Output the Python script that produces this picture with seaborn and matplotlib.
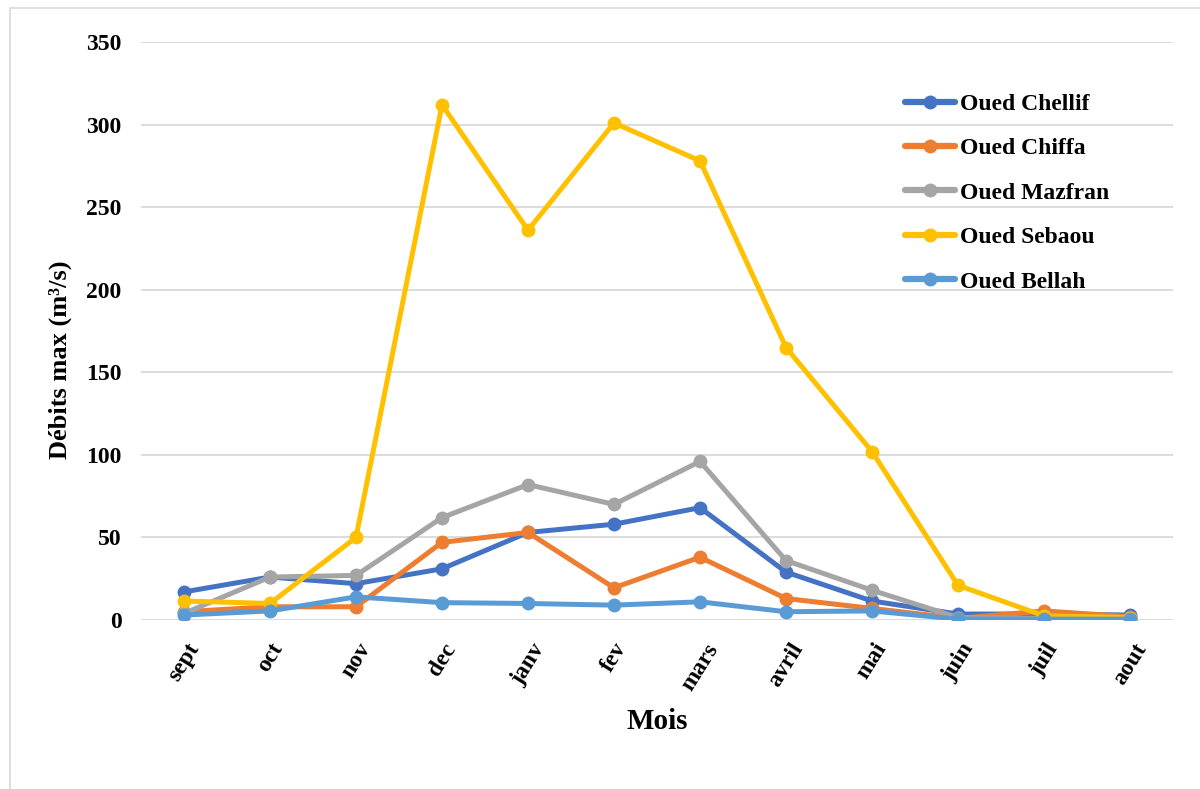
import matplotlib
matplotlib.use("Agg")
import matplotlib.pyplot as plt
from matplotlib.patches import Rectangle
import pandas as pd
import seaborn as sns

months = ["sept", "oct", "nov", "dec", "janv", "fev", "mars",
          "avril", "mai", "juin", "juil", "aout"]

chellif = [17, 26, 22, 31, 53, 58, 68, 29, 11.5, 3.6, 3.6, 3]
chiffa = [5, 8, 8, 47, 53, 19.5, 38, 13, 7, 1, 5.5, 2]
mazfran = [4, 26, 27, 62, 82, 70, 96, 36, 18, 1.5, 1, 1]
sebaou = [11.5, 10, 50, 312, 236, 301, 278, 165, 102, 21, 2.5, 1.5]
bellah = [3, 5.5, 14, 10.5, 10, 9, 11, 5, 5.5, 0.5, 0.5, 0.5]

series_names = ["Oued Chellif", "Oued Chiffa", "Oued Mazfran",
                "Oued Sebaou", "Oued Bellah"]
series_values = [chellif, chiffa, mazfran, sebaou, bellah]
colors = ["#4472C4", "#ED7D31", "#A5A5A5", "#FFC000", "#5B9BD5"]

rows = []
for name, vals in zip(series_names, series_values):
    for i, v in enumerate(vals):
        rows.append({"pos": i, "mois": months[i], "oued": name, "debit": v})
df = pd.DataFrame(rows)

sns.set_theme(style="white")
plt.rcParams["font.family"] = ["Liberation Serif", "DejaVu Serif"]
for key in ["text.color", "axes.labelcolor", "xtick.color", "ytick.color"]:
    plt.rcParams[key] = "black"

fig = plt.figure(figsize=(12, 7.89), dpi=100)
ax = fig.add_axes([0.1175, 0.2142, 0.86, 0.7326])

sns.lineplot(data=df, x="pos", y="debit", hue="oued", hue_order=series_names,
             palette=colors, marker="o", markersize=10, markeredgewidth=0,
             linewidth=3.6, sort=False, ax=ax, zorder=3)

ax.set_xlim(-0.5, 11.5)
ax.set_ylim(0, 350)
ax.set_yticks(range(0, 351, 50))
ax.set_xticks(range(len(months)))
ax.set_xticklabels(months, rotation=58, fontsize=17, fontweight="bold",
                   ha="center", va="top")
ax.tick_params(axis="y", labelsize=17, pad=14, length=0)
ax.tick_params(axis="x", pad=14, length=0)
for lab in ax.get_yticklabels():
    lab.set_fontweight("bold")

ax.grid(axis="y", color="#D9D9D9", linewidth=1.3, zorder=0)
ax.set_axisbelow(True)
for s in ax.spines.values():
    s.set_visible(False)

ax.set_xlabel("Mois", fontsize=21, fontweight="bold", labelpad=10)
ax.set_ylabel("Débits max (m³/s)", fontsize=19, fontweight="bold",
              labelpad=10)
ax.yaxis.label.set_y(0.45)

leg = ax.legend(loc="upper left", bbox_to_anchor=(0.72, 0.948), frameon=False,
                prop={"size": 17, "weight": "bold"}, labelspacing=0.97,
                handlelength=2.1, handletextpad=0.2)
for h in leg.get_lines():
    h.set_linewidth(4.5)
    h.set_markersize(10)

fig.patches.append(Rectangle((10 / 1200, -0.01), 1.0, 1 - 8 / 789 + 0.01,
                             transform=fig.transFigure, fill=False,
                             edgecolor="#D9D9D9", linewidth=1.2))

fig.savefig("out.png", dpi=100)
